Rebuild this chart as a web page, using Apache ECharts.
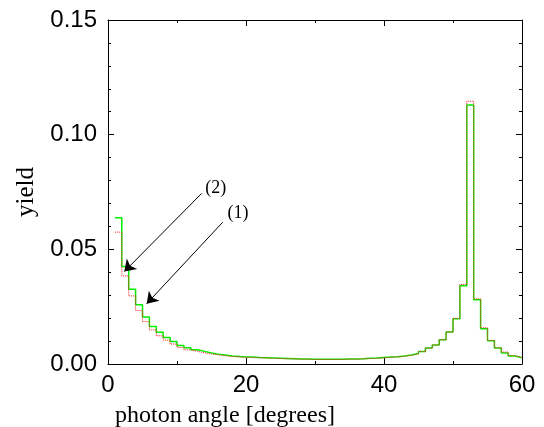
<!DOCTYPE html>
<html>
<head>
<meta charset="utf-8">
<script src="https://cdn.jsdelivr.net/npm/echarts@6/dist/echarts.min.js"></script>
<style>
html,body{margin:0;padding:0;background:#fff;overflow:hidden;}
#chart{width:544px;height:427px;}
</style>
</head>
<body>
<div id="chart"></div>
<script>
// bin left edges (degrees), each bin is 1 degree wide; last edge closes the histogram
const binLeft = [1,2,3,4,5,6,7,8,9,10,11,12,13,14,15,16,17,18,19,20,
  21,22,23,24,25,26,27,28,29,30,31,32,33,34,35,36,37,38,39,40,
  41,42,43,44,45,46,47,48,49,50,51,52,53,54,55,56,57,58,59];
const lastEdge = 60;

// curve (2): green solid
const yieldGreen = [0.0638,0.0425,0.0326,0.0258,0.0205,0.0164,0.0138,0.0116,0.0098,0.0081,
  0.0071,0.0062,0.0055,0.0048,0.0043,0.0039,0.0035,0.0033,0.0031,0.0030,
  0.0028,0.0027,0.0026,0.0025,0.0024,0.0023,0.0022,0.0022,0.0021,0.0021,
  0.0021,0.0021,0.0021,0.0022,0.0022,0.0023,0.0025,0.0026,0.0028,0.0030,
  0.0032,0.0035,0.0039,0.0046,0.0055,0.0070,0.0083,0.0106,0.0139,0.0197,
  0.0341,0.1129,0.0280,0.0154,0.0101,0.0070,0.0048,0.0035,0.0027];

// curve (1): red dotted
const yieldRed = [0.0575,0.0384,0.0297,0.0233,0.0185,0.0149,0.0123,0.0104,0.0087,0.0072,
  0.0062,0.0055,0.0049,0.0044,0.0040,0.0036,0.0033,0.0031,0.0029,0.0028,
  0.0027,0.0026,0.0025,0.0024,0.0023,0.0022,0.0021,0.0021,0.0020,0.0020,
  0.0020,0.0020,0.0020,0.0021,0.0021,0.0022,0.0024,0.0025,0.0027,0.0029,
  0.0031,0.0034,0.0038,0.0045,0.0054,0.0069,0.0083,0.0106,0.0140,0.0199,
  0.0347,0.1146,0.0284,0.0158,0.0103,0.0071,0.0052,0.0036,0.0028];

// annotation arrows
const arrowLabels = ['(2)', '(1)'];
const arrowLabelPos = [[15.6, 0.0768], [18.85, 0.0659]];
const arrowFrom = [[13.58, 0.0744], [16.62, 0.0618]];
const arrowTo = [[2.36, 0.0403], [5.61, 0.0263]];

const xTicks = [0, 20, 40, 60];
const yTicks = [0.00, 0.05, 0.10, 0.15];

function hist(vals) {
  const d = binLeft.map((x, i) => [x, vals[i]]);
  d.push([lastEdge, vals[vals.length - 1]]);
  return d;
}

const chart = echarts.init(document.getElementById('chart'), null, {renderer: 'canvas'});

const axisLine = {show: true, onZero: false, lineStyle: {color: '#000', width: 1}};
const tickCommon = {show: true, inside: true, length: 6, lineStyle: {color: '#000', width: 1}};
const minorCommon = {show: true, length: 3, lineStyle: {color: '#000', width: 1}};

const option = {
  animation: false,
  backgroundColor: '#fff',
  grid: {left: 108, right: 22, top: 20, bottom: 63, containLabel: false, outerBoundsMode: 'none'},
  xAxis: [{
    type: 'value', min: xTicks[0], max: xTicks[xTicks.length - 1], interval: 20,
    position: 'bottom',
    axisLine: axisLine, axisTick: tickCommon,
    minorTick: Object.assign({splitNumber: 2}, minorCommon),
    splitLine: {show: false},
    axisLabel: {color: '#000', fontSize: 24, fontFamily: 'Liberation Sans, Arial', margin: 9},
    name: 'photon angle [degrees]', nameLocation: 'middle', nameGap: 40,
    nameTextStyle: {color: '#000', fontSize: 24, fontFamily: 'Liberation Serif, Times New Roman, serif', padding: [0, 180, 0, 0]}
  }, {
    type: 'value', min: xTicks[0], max: xTicks[xTicks.length - 1], interval: 20,
    position: 'top',
    axisLine: axisLine, axisTick: tickCommon,
    minorTick: Object.assign({splitNumber: 2}, minorCommon),
    splitLine: {show: false}, axisLabel: {show: false}
  }],
  yAxis: [{
    type: 'value', min: yTicks[0], max: yTicks[yTicks.length - 1], interval: 0.05,
    position: 'left',
    axisLine: axisLine, axisTick: tickCommon,
    minorTick: Object.assign({splitNumber: 5}, minorCommon),
    splitLine: {show: false},
    axisLabel: {color: '#000', fontSize: 24, fontFamily: 'Liberation Sans, Arial', margin: 11,
      formatter: v => v.toFixed(2)},
    name: 'yield', nameLocation: 'middle', nameGap: 66,
    nameTextStyle: {color: '#000', fontSize: 25, fontFamily: 'Liberation Serif, Times New Roman, serif'}
  }, {
    type: 'value', min: yTicks[0], max: yTicks[yTicks.length - 1], interval: 0.05,
    position: 'right',
    axisLine: axisLine, axisTick: tickCommon,
    minorTick: Object.assign({splitNumber: 5}, minorCommon),
    splitLine: {show: false}, axisLabel: {show: false}
  }],
  series: [{
    name: '(2)', type: 'line', step: 'end', showSymbol: false, symbol: 'none',
    xAxisIndex: 0, yAxisIndex: 0,
    data: hist(yieldGreen),
    lineStyle: {color: '#00ee00', width: 1.5, type: 'solid'},
    markLine: {
      silent: true, symbol: ['none', 'arrow'], symbolSize: 11,
      lineStyle: {color: '#000', width: 1, type: 'solid'},
      label: {show: false},
      data: arrowFrom.map((f, i) => [{coord: f}, {coord: arrowTo[i]}])
    },
    markPoint: {
      silent: true, symbol: 'circle', symbolSize: 0,
      label: {show: true, position: 'inside', color: '#000', fontSize: 18,
        fontFamily: 'Liberation Serif, Times New Roman, serif', formatter: p => p.name},
      data: arrowLabels.map((t, i) => ({name: t, coord: arrowLabelPos[i]}))
    },
    z: 2
  }, {
    name: '(1)', type: 'line', step: 'end', showSymbol: false, symbol: 'none',
    xAxisIndex: 0, yAxisIndex: 0,
    data: hist(yieldRed),
    lineStyle: {color: '#ff2020', width: 1, type: 'dotted'},
    z: 3
  }]
};
chart.setOption(option);
</script>
</body>
</html>
